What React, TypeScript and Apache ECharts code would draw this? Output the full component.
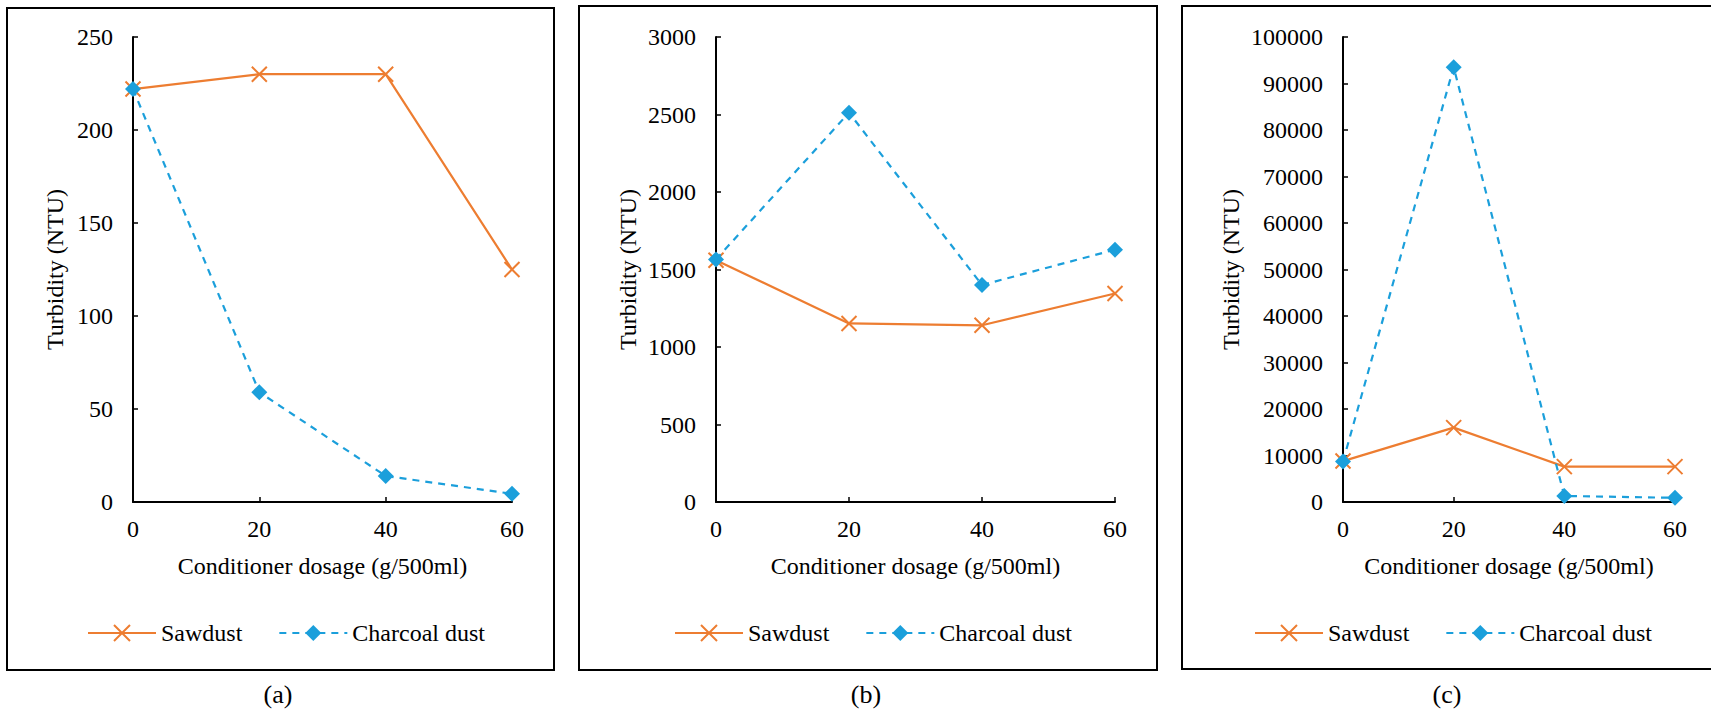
import React, { useEffect, useRef } from "react";
import * as echarts from "echarts";

const dosages = [0, 20, 40, 60];
const seriesNames = ["Sawdust", "Charcoal dust"];

const sawdustA = [222, 230, 230, 125];
const charcoalA = [222, 59, 14, 4.4];
const sawdustB = [1560, 1152, 1140, 1345];
const charcoalB = [1565, 2512, 1400, 1628];
const sawdustC = [8800, 16000, 7600, 7600];
const charcoalC = [8700, 93500, 1300, 900];

const yMaxes = [250, 3000, 100000];
const yIntervals = [50, 500, 10000];
const panelLabels = ["(a)", "(b)", "(c)"];

const xTitle = "Conditioner dosage (g/500ml)";
const yTitle = "Turbidity (NTU)";

const ORANGE = "#ED7D31";
const BLUE = "#1B9FDB";
const FONT = "Times New Roman, Liberation Serif, serif";

export default function App() {
  const ref = useRef<HTMLDivElement>(null);
  useEffect(() => {
    document.body.style.margin = "0";
    document.body.style.overflow = "hidden";
    const chart = echarts.init(ref.current!, undefined, { renderer: "svg" });

    const grids = [
      { left: 133, top: 37, width: 379, height: 465 },
      { left: 716, top: 37, width: 399, height: 465 },
      { left: 1343, top: 37, width: 332, height: 465 },
    ];
    const yNameGaps = [66, 76, 100];
    const legendLefts = [87, 674, 1254];
    const borders = [
      { x: 7, y: 8, w: 547, h: 662 },
      { x: 579, y: 6, w: 578, h: 664 },
      { x: 1182, y: 6, w: 540, h: 663 },
    ];
    const labelX = [278, 866, 1447];

    const dataSets = [
      [sawdustA, charcoalA],
      [sawdustB, charcoalB],
      [sawdustC, charcoalC],
    ];

    const axisCommon = {
      axisLine: { show: true, lineStyle: { color: "#000", width: 2 } },
      axisTick: { show: true, inside: true, length: 5, lineStyle: { color: "#000", width: 1.5 } },
      splitLine: { show: false },
    };

    const xAxes = grids.map((_, i) => ({
      type: "value",
      gridIndex: i,
      min: 0,
      max: 60,
      interval: 20,
      name: xTitle,
      nameLocation: "middle",
      nameGap: 52,
      nameTextStyle: { fontFamily: FONT, fontSize: 24, color: "#000" },
      axisLabel: {
        fontFamily: FONT,
        fontSize: 24,
        color: "#000",
        margin: 15,
        formatter: (v: number) => String(v),
      },
      ...axisCommon,
    }));

    const yAxes = grids.map((_, i) => ({
      type: "value",
      gridIndex: i,
      min: 0,
      max: yMaxes[i],
      interval: yIntervals[i],
      name: yTitle,
      nameLocation: "middle",
      nameGap: yNameGaps[i],
      nameTextStyle: { fontFamily: FONT, fontSize: 24, color: "#000" },
      axisLabel: {
        fontFamily: FONT,
        fontSize: 24,
        color: "#000",
        margin: 20,
        formatter: (v: number) => String(v),
      },
      ...axisCommon,
    }));

    const series: any[] = [];
    dataSets.forEach((ds, i) => {
      series.push({
        type: "line",
        name: seriesNames[0],
        xAxisIndex: i,
        yAxisIndex: i,
        data: dosages.map((d, k) => [d, ds[0][k]]),
        symbol: "path://M0,0L10,10M10,0L0,10",
        symbolSize: 15,
        lineStyle: { color: ORANGE, width: 2.2, type: "solid" },
        itemStyle: { color: ORANGE, borderColor: ORANGE, borderWidth: 2 },
        z: 2,
      });
      series.push({
        type: "line",
        name: seriesNames[1],
        xAxisIndex: i,
        yAxisIndex: i,
        data: dosages.map((d, k) => [d, ds[1][k]]),
        symbol: "diamond",
        symbolSize: 16,
        lineStyle: { color: BLUE, width: 2.2, type: [7, 6] },
        itemStyle: { color: BLUE },
        z: 3,
      });
    });

    const legends = legendLefts.map((l) => ({
      left: l,
      top: 621,
      padding: 0,
      orient: "horizontal",
      itemWidth: 68,
      itemHeight: 20,
      itemGap: 36,
      data: seriesNames,
      textStyle: { fontFamily: FONT, fontSize: 24, color: "#000" },
      selectedMode: false,
    }));

    const graphics: any[] = [];
    borders.forEach((b) => {
      graphics.push({
        type: "rect",
        shape: { x: b.x, y: b.y, width: b.w, height: b.h },
        style: { fill: "none", stroke: "#000", lineWidth: 2 },
        silent: true,
        z: -1,
      });
    });
    panelLabels.forEach((t, i) => {
      graphics.push({
        type: "text",
        x: labelX[i],
        y: 694,
        style: {
          text: t,
          fontFamily: FONT,
          fontSize: 26,
          fill: "#000",
          textAlign: "center",
          textVerticalAlign: "middle",
        },
      });
    });

    chart.setOption({
      animation: false,
      backgroundColor: "#fff",
      textStyle: { fontFamily: FONT },
      grid: grids.map((g) => ({ ...g, containLabel: false })),
      xAxis: xAxes,
      yAxis: yAxes,
      legend: legends,
      series,
      graphic: graphics,
    });
    return () => chart.dispose();
  }, []);
  return (
    <div
      ref={ref}
      style={{ position: "absolute", left: 0, top: 0, width: 1711, height: 714 }}
    />
  );
}
